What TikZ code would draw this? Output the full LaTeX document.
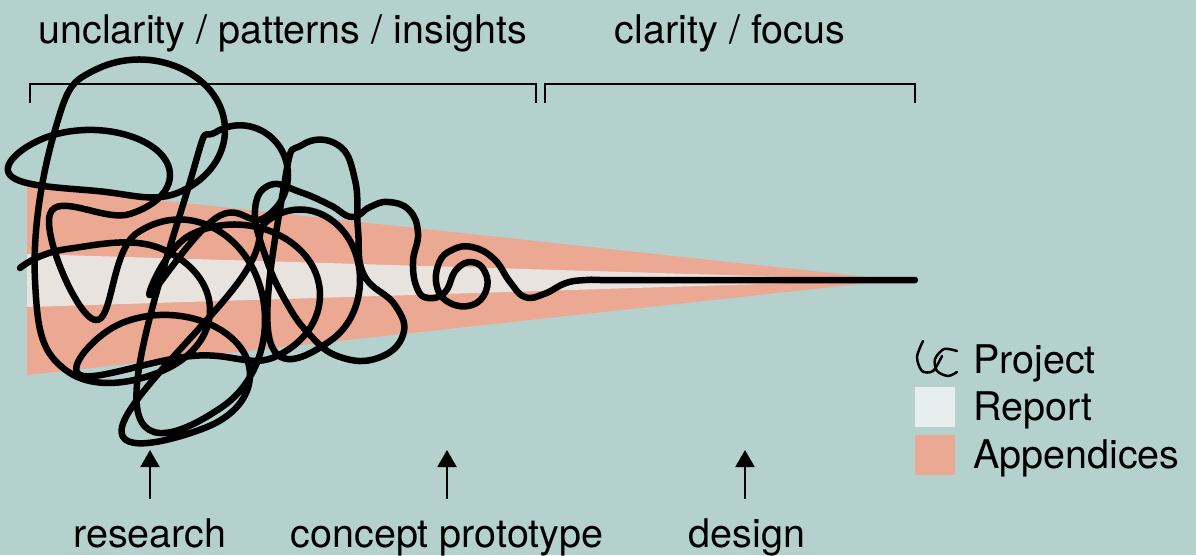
\documentclass[tikz,border=0pt]{standalone}
\usepackage{fontspec}
\setmainfont{TeX Gyre Heros}
\usetikzlibrary{positioning,arrows.meta}
\definecolor{bgteal}{HTML}{B5D1CD}
\definecolor{appx}{HTML}{EBA892}
\definecolor{reportband}{HTML}{E9E3DF}
\definecolor{reportkey}{HTML}{E6EFEE}

\begin{document}
\begin{tikzpicture}[
    x=1pt, y=-1pt,
    heading/.style={font=\fontsize{39.5}{45}\selectfont, anchor=base, inner sep=0pt},
    stage/.style={font=\fontsize{39.5}{45}\selectfont, anchor=base, inner sep=0pt, text height=28pt},
    keytext/.style={font=\fontsize{39.5}{45}\selectfont, anchor=base west, inner sep=0pt},
    swatch/.style={minimum size=40pt, inner sep=0pt},
    bracket/.style={line width=1.8pt},
    arr/.style={-{Triangle[length=17pt, width=19pt]}, line width=2.2pt, shorten <=20pt},
    scribble/.style={line width=6.5pt, line cap=round, line join=round}
]
    \fill[bgteal] (0,0) rectangle (1196,555);
    \useasboundingbox (0,0) rectangle (1196,555);

    % Appendices wedge and report band
    \fill[appx] (27,186) -- (896,280) -- (27,375) -- cycle;
    \fill[reportband] (27,254) -- (890,280) -- (27,307) -- cycle;

    % Brackets and headings
    \node[heading] (unclear) at (283,43) {unclarity / patterns / insights};
    \node[heading] (clear) at (730,43) {clarity / focus};
    \draw[bracket] (30,103) |- (536,84) -- (536,103);
    \draw[bracket] (545,103) |- (915,84) -- (915,103);

    % Project scribble
    \draw[scribble] plot[smooth, tension=0.75] coordinates {
        (20,268) (67,249) (162,249) (210,310) (162,371) (67,371) (35,280)
        (55,130) (97,69) (182,69) (225,130) (182,191) (97,191)
        (10,175) (50,136) (130,136) (170,175) (130,214) (50,214)
        (95,320) (137,233) (222,233) (265,320) (222,407) (137,407)
        (192,175) (216,132) (264,132) (288,175) (264,218) (216,218)
        (150,295) (192,234) (277,234) (320,295) (277,356) (192,356)
        (80,375) (122,323) (207,323) (250,375) (207,427) (122,427)
        (240,280) (270,219) (330,219) (360,280) (330,341) (270,341)
        (285,180) (302,145) (338,145) (355,180)
        (358,230) (364,275) (395,305) (403,335) (378,358) (340,357)
        (310,335) (285,300) (265,255) (255,210) (270,185) (300,192) (330,205) (352,217)
        (370,207) (388,202) (409,210) (418,233) (413,262) (417,288) (428,298)
        (445,292) (456,270) (472,262) (485,272) (486,291) (472,305) (450,303)
        (437,287) (439,263) (452,250) (472,247) (494,259) (510,282) (525,297)
        (544,294) (566,283) (586,280) (600,280)} -- (915,280);

    % Phases
    \node[stage] (research) at (150,547) {research};
    \node[stage] (concept) at (447,547) {concept prototype};
    \node[stage] (design) at (747,547) {design};
    \coordinate (research tip) at (150,450);
    \coordinate (concept tip) at (447,450);
    \coordinate (design tip) at (745,450);
    \draw[arr] (research.north) -- (research tip);
    \draw[arr] (concept.north) -- (concept tip);
    \draw[arr] (design.north -| design tip) -- (design tip);

    % Legend
    \draw[line width=2.5pt, line cap=round] plot[smooth] coordinates {(923,341) (917,357) (922,371) (933,371) (942,356)};
    \draw[line width=2.5pt, line cap=round] plot[smooth] coordinates {(957,351) (944,349) (935,359) (937,371) (948,376) (957,372)};
    \node[keytext] (project) at (973,373) {Project};
    \node[swatch, fill=reportkey] (report key) at (935,407) {};
    \node[keytext] (report) at (973,420) {Report};
    \node[swatch, fill=appx] (appx key) at (935,455) {};
    \node[keytext] (appendices) at (973,468) {Appendices};
\end{tikzpicture}
\end{document}
